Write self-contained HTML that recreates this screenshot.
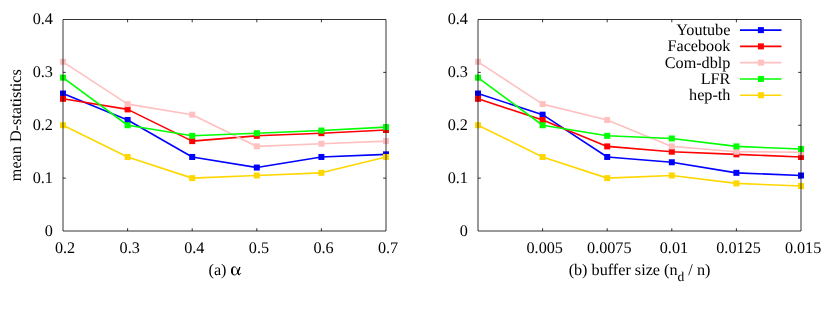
<!DOCTYPE html>
<html><head><meta charset="utf-8"><title>chart</title>
<style>
html,body{margin:0;padding:0;background:#fff;}
body{width:830px;height:332px;overflow:hidden;position:relative;font-family:"Liberation Serif",serif;}
</style></head><body>
<svg width="830" height="332" viewBox="0 0 830 332" style="display:block;position:absolute;left:0;top:0;will-change:transform">
<rect width="830" height="332" fill="#fff"/>
<g font-family="'Liberation Serif', serif" font-size="16.2" fill="#000" text-rendering="geometricPrecision">
<path d="M127.60,231.00 v-2.80 M127.60,19.50 v2.80 M192.20,231.00 v-2.80 M192.20,19.50 v2.80 M256.80,231.00 v-2.80 M256.80,19.50 v2.80 M321.40,231.00 v-2.80 M321.40,19.50 v2.80 M63.00,178.12 h2.80 M386.00,178.12 h-2.80 M63.00,125.25 h2.80 M386.00,125.25 h-2.80 M63.00,72.37 h2.80 M386.00,72.37 h-2.80" fill="none" stroke="#000" stroke-width="0.8"/>
<polyline points="63.00,93.53 127.60,119.96 192.20,156.97 256.80,167.55 321.40,156.97 386.00,154.33" fill="none" stroke="#0000ff" stroke-width="1.6" stroke-linejoin="round"/>
<rect x="60.00" y="90.53" width="6.0" height="6.0" fill="#0000ff"/>
<rect x="124.60" y="116.96" width="6.0" height="6.0" fill="#0000ff"/>
<rect x="189.20" y="153.97" width="6.0" height="6.0" fill="#0000ff"/>
<rect x="253.80" y="164.55" width="6.0" height="6.0" fill="#0000ff"/>
<rect x="318.40" y="153.97" width="6.0" height="6.0" fill="#0000ff"/>
<rect x="383.00" y="151.33" width="6.0" height="6.0" fill="#0000ff"/>
<polyline points="63.00,98.81 127.60,109.39 192.20,141.11 256.80,135.82 321.40,133.18 386.00,130.01" fill="none" stroke="#ff0000" stroke-width="1.6" stroke-linejoin="round"/>
<rect x="60.00" y="95.81" width="6.0" height="6.0" fill="#ff0000"/>
<rect x="124.60" y="106.39" width="6.0" height="6.0" fill="#ff0000"/>
<rect x="189.20" y="138.11" width="6.0" height="6.0" fill="#ff0000"/>
<rect x="253.80" y="132.82" width="6.0" height="6.0" fill="#ff0000"/>
<rect x="318.40" y="130.18" width="6.0" height="6.0" fill="#ff0000"/>
<rect x="383.00" y="127.01" width="6.0" height="6.0" fill="#ff0000"/>
<polyline points="63.00,61.80 127.60,104.10 192.20,114.68 256.80,146.40 321.40,143.76 386.00,141.11" fill="none" stroke="#ffc0c0" stroke-width="1.6" stroke-linejoin="round"/>
<rect x="60.00" y="58.80" width="6.0" height="6.0" fill="#ffc0c0"/>
<rect x="124.60" y="101.10" width="6.0" height="6.0" fill="#ffc0c0"/>
<rect x="189.20" y="111.68" width="6.0" height="6.0" fill="#ffc0c0"/>
<rect x="253.80" y="143.40" width="6.0" height="6.0" fill="#ffc0c0"/>
<rect x="318.40" y="140.76" width="6.0" height="6.0" fill="#ffc0c0"/>
<rect x="383.00" y="138.11" width="6.0" height="6.0" fill="#ffc0c0"/>
<polyline points="63.00,77.66 127.60,125.25 192.20,135.82 256.80,133.18 321.40,130.54 386.00,127.10" fill="none" stroke="#00ff00" stroke-width="1.6" stroke-linejoin="round"/>
<rect x="60.00" y="74.66" width="6.0" height="6.0" fill="#00ff00"/>
<rect x="124.60" y="122.25" width="6.0" height="6.0" fill="#00ff00"/>
<rect x="189.20" y="132.82" width="6.0" height="6.0" fill="#00ff00"/>
<rect x="253.80" y="130.18" width="6.0" height="6.0" fill="#00ff00"/>
<rect x="318.40" y="127.54" width="6.0" height="6.0" fill="#00ff00"/>
<rect x="383.00" y="124.10" width="6.0" height="6.0" fill="#00ff00"/>
<polyline points="63.00,125.25 127.60,156.97 192.20,178.12 256.80,175.48 321.40,172.84 386.00,156.97" fill="none" stroke="#ffd700" stroke-width="1.6" stroke-linejoin="round"/>
<rect x="60.00" y="122.25" width="6.0" height="6.0" fill="#ffd700"/>
<rect x="124.60" y="153.97" width="6.0" height="6.0" fill="#ffd700"/>
<rect x="189.20" y="175.12" width="6.0" height="6.0" fill="#ffd700"/>
<rect x="253.80" y="172.48" width="6.0" height="6.0" fill="#ffd700"/>
<rect x="318.40" y="169.84" width="6.0" height="6.0" fill="#ffd700"/>
<rect x="383.00" y="153.97" width="6.0" height="6.0" fill="#ffd700"/>
<path d="M63.00,19.50 H386.00 V231.00 H63.00 Z" fill="none" stroke="#000" stroke-width="0.8"/>
<text x="52.90" y="236.20" text-anchor="end">0</text>
<text x="52.90" y="183.24" text-anchor="end">0.1</text>
<text x="52.90" y="130.29" text-anchor="end">0.2</text>
<text x="52.90" y="77.33" text-anchor="end">0.3</text>
<text x="52.90" y="24.38" text-anchor="end">0.4</text>
<text x="65.10" y="252.50" text-anchor="middle">0.2</text>
<text x="129.70" y="252.50" text-anchor="middle">0.3</text>
<text x="194.30" y="252.50" text-anchor="middle">0.4</text>
<text x="258.90" y="252.50" text-anchor="middle">0.5</text>
<text x="323.50" y="252.50" text-anchor="middle">0.6</text>
<text x="388.10" y="252.50" text-anchor="middle">0.7</text>
<path d="M542.60,231.00 v-2.80 M542.60,19.50 v2.80 M607.20,231.00 v-2.80 M607.20,19.50 v2.80 M671.80,231.00 v-2.80 M671.80,19.50 v2.80 M736.40,231.00 v-2.80 M736.40,19.50 v2.80 M478.00,178.12 h2.80 M801.00,178.12 h-2.80 M478.00,125.25 h2.80 M801.00,125.25 h-2.80 M478.00,72.37 h2.80 M801.00,72.37 h-2.80" fill="none" stroke="#000" stroke-width="0.8"/>
<polyline points="478.00,93.53 542.60,114.68 607.20,156.97 671.80,162.26 736.40,172.84 801.00,175.48" fill="none" stroke="#0000ff" stroke-width="1.6" stroke-linejoin="round"/>
<rect x="475.00" y="90.53" width="6.0" height="6.0" fill="#0000ff"/>
<rect x="539.60" y="111.68" width="6.0" height="6.0" fill="#0000ff"/>
<rect x="604.20" y="153.97" width="6.0" height="6.0" fill="#0000ff"/>
<rect x="668.80" y="159.26" width="6.0" height="6.0" fill="#0000ff"/>
<rect x="733.40" y="169.84" width="6.0" height="6.0" fill="#0000ff"/>
<rect x="798.00" y="172.48" width="6.0" height="6.0" fill="#0000ff"/>
<polyline points="478.00,98.81 542.60,119.96 607.20,146.40 671.80,151.69 736.40,154.33 801.00,156.97" fill="none" stroke="#ff0000" stroke-width="1.6" stroke-linejoin="round"/>
<rect x="475.00" y="95.81" width="6.0" height="6.0" fill="#ff0000"/>
<rect x="539.60" y="116.96" width="6.0" height="6.0" fill="#ff0000"/>
<rect x="604.20" y="143.40" width="6.0" height="6.0" fill="#ff0000"/>
<rect x="668.80" y="148.69" width="6.0" height="6.0" fill="#ff0000"/>
<rect x="733.40" y="151.33" width="6.0" height="6.0" fill="#ff0000"/>
<rect x="798.00" y="153.97" width="6.0" height="6.0" fill="#ff0000"/>
<polyline points="478.00,61.80 542.60,104.10 607.20,119.96 671.80,146.40 736.40,151.69 801.00,152.22" fill="none" stroke="#ffc0c0" stroke-width="1.6" stroke-linejoin="round"/>
<rect x="475.00" y="58.80" width="6.0" height="6.0" fill="#ffc0c0"/>
<rect x="539.60" y="101.10" width="6.0" height="6.0" fill="#ffc0c0"/>
<rect x="604.20" y="116.96" width="6.0" height="6.0" fill="#ffc0c0"/>
<rect x="668.80" y="143.40" width="6.0" height="6.0" fill="#ffc0c0"/>
<rect x="733.40" y="148.69" width="6.0" height="6.0" fill="#ffc0c0"/>
<rect x="798.00" y="149.22" width="6.0" height="6.0" fill="#ffc0c0"/>
<polyline points="478.00,77.66 542.60,125.25 607.20,135.82 671.80,138.47 736.40,146.40 801.00,149.04" fill="none" stroke="#00ff00" stroke-width="1.6" stroke-linejoin="round"/>
<rect x="475.00" y="74.66" width="6.0" height="6.0" fill="#00ff00"/>
<rect x="539.60" y="122.25" width="6.0" height="6.0" fill="#00ff00"/>
<rect x="604.20" y="132.82" width="6.0" height="6.0" fill="#00ff00"/>
<rect x="668.80" y="135.47" width="6.0" height="6.0" fill="#00ff00"/>
<rect x="733.40" y="143.40" width="6.0" height="6.0" fill="#00ff00"/>
<rect x="798.00" y="146.04" width="6.0" height="6.0" fill="#00ff00"/>
<polyline points="478.00,125.25 542.60,156.97 607.20,178.12 671.80,175.48 736.40,183.41 801.00,186.06" fill="none" stroke="#ffd700" stroke-width="1.6" stroke-linejoin="round"/>
<rect x="475.00" y="122.25" width="6.0" height="6.0" fill="#ffd700"/>
<rect x="539.60" y="153.97" width="6.0" height="6.0" fill="#ffd700"/>
<rect x="604.20" y="175.12" width="6.0" height="6.0" fill="#ffd700"/>
<rect x="668.80" y="172.48" width="6.0" height="6.0" fill="#ffd700"/>
<rect x="733.40" y="180.41" width="6.0" height="6.0" fill="#ffd700"/>
<rect x="798.00" y="183.06" width="6.0" height="6.0" fill="#ffd700"/>
<text x="730.4" y="35.10" text-anchor="end">Youtube</text>
<line x1="740" y1="30.10" x2="781.5" y2="30.10" stroke="#0000ff" stroke-width="1.6"/>
<rect x="757.90" y="27.10" width="6.0" height="6.0" fill="#0000ff"/>
<text x="730.4" y="51.38" text-anchor="end">Facebook</text>
<line x1="740" y1="46.38" x2="781.5" y2="46.38" stroke="#ff0000" stroke-width="1.6"/>
<rect x="757.90" y="43.38" width="6.0" height="6.0" fill="#ff0000"/>
<text x="730.4" y="67.66" text-anchor="end">Com-dblp</text>
<line x1="740" y1="62.66" x2="781.5" y2="62.66" stroke="#ffc0c0" stroke-width="1.6"/>
<rect x="757.90" y="59.66" width="6.0" height="6.0" fill="#ffc0c0"/>
<text x="730.4" y="83.94" text-anchor="end">LFR</text>
<line x1="740" y1="78.94" x2="781.5" y2="78.94" stroke="#00ff00" stroke-width="1.6"/>
<rect x="757.90" y="75.94" width="6.0" height="6.0" fill="#00ff00"/>
<text x="730.4" y="100.22" text-anchor="end">hep-th</text>
<line x1="740" y1="95.22" x2="781.5" y2="95.22" stroke="#ffd700" stroke-width="1.6"/>
<rect x="757.90" y="92.22" width="6.0" height="6.0" fill="#ffd700"/>
<path d="M478.00,19.50 H801.00 V231.00 H478.00 Z" fill="none" stroke="#000" stroke-width="0.8"/>
<text x="467.90" y="236.20" text-anchor="end">0</text>
<text x="467.90" y="183.24" text-anchor="end">0.1</text>
<text x="467.90" y="130.29" text-anchor="end">0.2</text>
<text x="467.90" y="77.33" text-anchor="end">0.3</text>
<text x="467.90" y="24.38" text-anchor="end">0.4</text>
<text x="544.70" y="252.50" text-anchor="middle">0.005</text>
<text x="609.30" y="252.50" text-anchor="middle">0.0075</text>
<text x="673.90" y="252.50" text-anchor="middle">0.01</text>
<text x="738.50" y="252.50" text-anchor="middle">0.0125</text>
<text x="803.10" y="252.50" text-anchor="middle">0.015</text>
<text x="208.5" y="274.6">(a)</text>
<g transform="translate(231.0,266.4)"><path d="M8.8,1.0 C8.2,3.0 7.2,5.2 6.3,6.6 C5.5,7.9 4.6,8.55 3.5,8.55 C1.6,8.55 0.7,6.8 0.7,4.5 C0.7,2.2 1.6,0.5 3.5,0.5 C4.8,0.5 5.6,1.6 6.2,3.2 C6.8,4.9 6.9,8.2 8.2,8.2 C8.9,8.2 9.4,7.6 9.7,6.9" fill="none" stroke="#000" stroke-width="0.85" stroke-linecap="round"/><path d="M8.75,1.1 C8.3,2.6 7.7,4.0 7.0,5.3" fill="none" stroke="#000" stroke-width="1.25" stroke-linecap="round"/><path d="M6.7,5.4 C7.0,6.9 7.3,8.0 8.0,8.1" fill="none" stroke="#000" stroke-width="1.6" stroke-linecap="round"/><path d="M3.4,0.1 C1.2,0.1 0,2.2 0,4.5 C0,6.8 1.2,8.95 3.4,8.95 C2.3,8.4 1.9,6.6 1.9,4.5 C1.9,2.4 2.3,0.6 3.4,0.1 Z" fill="#000"/></g>
<text x="639.5" y="274.6" text-anchor="middle">(b) buffer size (n<tspan font-size="13.5" dy="6.1">d</tspan><tspan dy="-6.1"> / n)</tspan></text>
<text transform="translate(21.4,125.2) rotate(-90)" text-anchor="middle">mean D-statistics</text>
</g></svg>
</body></html>
